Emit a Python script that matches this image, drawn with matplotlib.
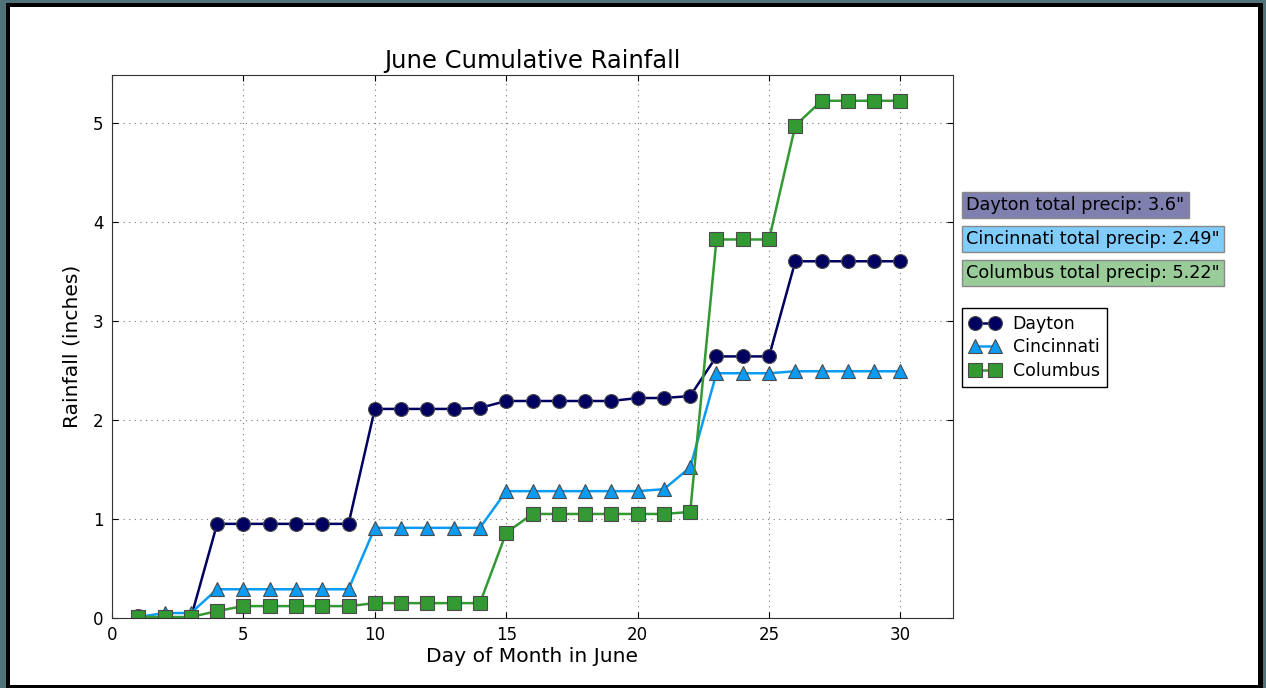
import matplotlib
matplotlib.use("Agg")
import matplotlib.pyplot as plt
from matplotlib.patches import Rectangle

days = list(range(1, 31))
dayton = [0.02, 0.00, 0.00, 0.95, 0.95, 0.95, 0.95, 0.95, 0.95, 2.11,
          2.11, 2.11, 2.11, 2.12, 2.19, 2.19, 2.19, 2.19, 2.19, 2.22,
          2.22, 2.24, 2.64, 2.64, 2.64, 3.60, 3.60, 3.60, 3.60, 3.60]
cincinnati = [0.01, 0.05, 0.05, 0.29, 0.29, 0.29, 0.29, 0.29, 0.29, 0.91,
              0.91, 0.91, 0.91, 0.91, 1.28, 1.28, 1.28, 1.28, 1.28, 1.28,
              1.30, 1.52, 2.47, 2.47, 2.47, 2.49, 2.49, 2.49, 2.49, 2.49]
columbus = [0.01, 0.01, 0.01, 0.07, 0.12, 0.12, 0.12, 0.12, 0.12, 0.15,
            0.15, 0.15, 0.15, 0.15, 0.86, 1.05, 1.05, 1.05, 1.05, 1.05,
            1.05, 1.07, 3.82, 3.82, 3.82, 4.97, 5.22, 5.22, 5.22, 5.22]
cities = ["Dayton", "Cincinnati", "Columbus"]
totals = ["3.6", "2.49", "5.22"]
xticks = [0, 5, 10, 15, 20, 25, 30]
yticks = [0, 1, 2, 3, 4, 5]

W, H = 1266, 688
fig = plt.figure(figsize=(W / 100, H / 100), dpi=100)
fig.patch.set_facecolor("#4f7378")

def px_rect(x0, y0, x1, y1, color):
    fig.patches.append(Rectangle((x0 / W, 1 - y1 / H), (x1 - x0) / W, (y1 - y0) / H,
                                 transform=fig.transFigure, facecolor=color,
                                 edgecolor="none", zorder=-10))

px_rect(6, 3, 1263, 700, "black")
px_rect(10, 7, 1258, 685, "white")

ax = fig.add_axes([112 / W, 1 - 618 / H, (953 - 112) / W, (618 - 75) / H])

colors = ["#000060", "#0a9cf5", "#339933"]
markers = ["o", "^", "s"]
series = [dayton, cincinnati, columbus]
for name, vals, c, m in zip(cities, series, colors, markers):
    ax.plot(days, vals, color=c, marker=m, markersize=10, linewidth=1.8,
            markeredgecolor="#4a4a4a", markeredgewidth=0.8, label=name)

ax.set_xlim(0, 32)
ax.set_ylim(0, 5.48)
ax.set_xticks(xticks)
ax.set_yticks(yticks)
ax.tick_params(direction="in", top=True, right=True, labelsize=12, length=4, pad=6)
ax.grid(True, color="#777777", linestyle=(0, (1, 4)), linewidth=0.8)
for s in ax.spines.values():
    s.set_color("#333333")
ax.set_title("June Cumulative Rainfall", fontsize=17.5, pad=5)
ax.set_xlabel("Day of Month in June", fontsize=14.6, labelpad=2)
ax.set_ylabel("Rainfall (inches)", fontsize=14.6, labelpad=8)

box_colors = ["#7f7fb0", "#80ccfa", "#99cc99"]
ys = [205, 239, 273]
for name, tot, bc, yp in zip(cities, totals, box_colors, ys):
    fig.text(966 / W, 1 - yp / H, f'{name} total precip: {tot}"', fontsize=12.7,
             va="center", ha="left",
             bbox=dict(boxstyle="square,pad=0.25", facecolor=bc, edgecolor="#888888"))

leg = ax.legend(loc="upper left", bbox_to_anchor=(962 / W, 1 - 308 / H),
                bbox_transform=fig.transFigure, borderaxespad=0, fancybox=False,
                edgecolor="black", framealpha=1, numpoints=2, fontsize=12.5,
                handlelength=1.8, handletextpad=0.7, borderpad=0.42, labelspacing=0.3)
leg.get_frame().set_linewidth(1.0)

fig.savefig("out.png", dpi=100, facecolor=fig.get_facecolor())
